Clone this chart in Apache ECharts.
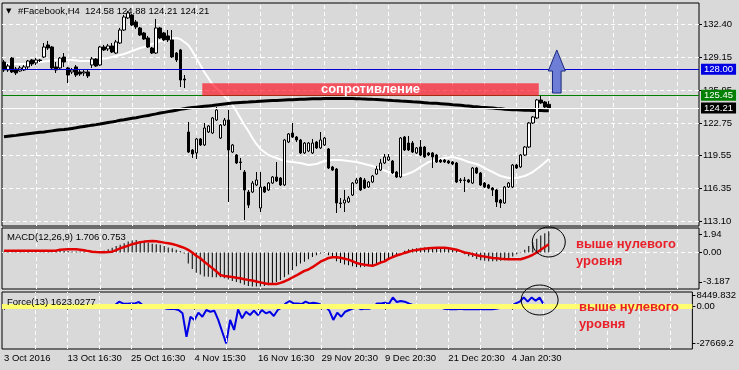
<!DOCTYPE html>
<html><head><meta charset="utf-8">
<script src="https://cdn.jsdelivr.net/npm/echarts/dist/echarts.min.js"></script>
<style>html,body{margin:0;padding:0;background:#D9D9D9;}#main{width:739px;height:370px;}</style>
</head><body><div id="main"></div>
<script>
// ---- data: [open, close, low, high] per H4 bar ----
const candles = [
[128.71,127.93,127.74,128.91],[127.93,128.32,127.74,128.52],[129.10,127.74,127.64,129.20],[128.03,127.64,127.44,128.23],
[127.83,128.13,127.74,128.32],[127.93,128.23,127.83,128.42],[128.23,128.81,128.03,128.91],[128.91,128.52,128.32,129.01],
[128.62,128.91,128.42,129.10],[128.91,128.86,128.71,129.01],[129.20,130.18,129.10,130.57],[130.38,130.08,129.89,130.77],
[130.18,128.13,128.03,130.28],[128.23,127.93,127.64,128.71],[128.13,129.10,127.93,129.20],[129.20,128.71,128.23,129.59],
[128.13,127.44,126.66,128.23],[127.74,127.93,127.54,128.13],[128.23,127.44,127.25,128.42],[127.74,127.54,127.35,128.03],
[127.64,127.74,127.35,127.93],[127.74,127.35,127.15,127.93],[128.42,129.01,128.13,129.20],[129.01,128.32,128.23,129.10],
[128.42,130.18,128.32,130.28],[130.18,129.89,129.79,130.38],[129.99,130.28,129.79,130.47],[130.28,129.69,129.59,130.57],
[129.59,130.67,129.50,130.87],[130.57,131.84,130.47,132.04],[131.84,133.11,131.75,133.31],[133.02,133.51,132.92,133.70],
[133.31,132.33,132.23,133.41],[132.63,132.14,131.94,132.82],[132.04,131.35,131.26,132.14],[131.55,130.96,130.87,131.65],
[131.06,130.18,130.08,131.26],[130.08,129.59,129.50,130.18],[129.59,132.04,129.50,132.92],[132.04,131.06,130.96,132.14],
[131.55,130.87,130.77,131.65],[131.26,130.87,130.67,131.84],[130.87,129.20,129.10,131.84],[129.59,128.91,128.71,129.69],
[129.89,126.95,126.27,129.99],[127.05,126.95,126.17,127.44],[121.87,119.91,119.82,122.85],[120.11,119.72,119.33,120.21],
[119.82,121.19,119.23,121.28],[121.19,120.60,120.50,121.28],[120.60,122.26,120.50,122.75],[121.87,122.46,121.77,122.55],
[121.77,123.24,121.68,123.34],[123.04,124.02,122.95,124.31],[121.28,122.55,121.19,122.65],[122.55,123.04,122.46,123.24],
[123.04,120.11,115.03,124.02],[119.91,120.60,119.82,120.70],[119.62,118.84,118.74,119.72],[118.94,118.89,118.15,119.33],
[117.96,116.20,113.27,118.15],[116.00,114.73,114.44,116.20],[116.00,116.88,115.91,117.08],[116.69,117.18,116.59,117.96],
[114.44,116.49,114.05,117.96],[116.49,116.00,115.91,116.59],[116.20,116.88,116.10,116.98],[116.88,117.47,116.79,117.57],
[117.47,117.08,116.98,118.94],[117.37,116.69,116.59,117.47],[116.69,121.09,116.59,121.19],[120.89,121.68,120.79,121.77],
[121.77,121.38,121.28,122.75],[121.38,121.09,120.89,121.48],[121.09,119.82,119.72,121.19],[119.82,120.79,119.72,120.89],
[120.01,120.79,119.91,120.89],[119.82,120.79,119.72,121.19],[120.89,120.31,120.21,120.99],[120.31,121.09,120.21,121.87],
[120.60,121.28,120.50,121.38],[120.21,118.35,118.25,120.31],[118.45,118.15,118.06,118.55],[118.25,114.93,113.95,118.35],
[114.93,114.88,114.44,115.42],[114.93,115.22,114.05,116.20],[115.03,115.42,114.93,115.61],[115.71,116.88,115.61,116.98],
[116.88,117.18,116.79,117.37],[117.37,116.20,116.10,117.47],[117.18,116.39,116.30,117.37],[116.49,116.98,116.39,117.08],
[116.98,117.57,116.88,117.67],[117.76,118.25,117.67,118.55],[118.15,118.84,118.06,119.23],[118.84,119.43,118.74,119.72],
[119.13,119.43,119.03,119.72],[119.03,117.86,117.76,119.13],[117.96,117.47,117.37,118.06],[117.47,121.28,117.37,121.38],
[121.38,120.11,120.01,121.48],[120.79,120.11,120.01,121.48],[120.79,119.91,119.82,120.99],[119.82,120.31,119.72,120.40],
[120.40,119.62,119.52,121.09],[120.40,119.43,119.33,120.50],[119.82,119.62,119.52,119.91],[119.82,119.43,118.35,119.91],
[119.62,118.94,118.84,119.72],[119.13,118.94,118.84,119.23],[119.13,118.94,118.84,119.23],[119.03,118.84,118.74,119.13],
[118.94,118.74,118.64,119.03],[118.84,116.98,116.88,118.94],[117.18,117.13,116.88,117.37],[117.18,117.13,116.00,117.47],
[117.18,116.98,116.88,117.28],[116.88,118.35,116.79,118.45],[118.35,117.86,117.76,118.45],[117.86,116.69,116.59,117.96],
[116.88,116.49,116.39,116.98],[116.69,116.39,116.30,116.79],[116.39,116.20,115.61,116.49],[116.20,115.03,114.54,116.30],
[115.22,114.93,114.44,115.32],[114.93,116.49,114.83,116.59],[116.49,116.88,116.39,116.98],[116.49,118.64,116.39,118.74],
[118.64,118.35,118.25,118.74],[118.45,119.62,118.35,119.72],[119.62,120.40,119.52,120.50],[120.40,122.75,120.31,122.85],
[122.75,123.34,122.65,123.44],[123.24,125.00,123.14,125.10],[125.00,124.71,124.61,125.49],[124.80,124.31,124.22,124.90],
[124.58,124.21,124.21,124.88]
];
const maFast = [128.52,128.52,128.52,128.52,128.52,128.52,128.57,128.62,128.66,128.71,128.76,128.81,128.91,128.91,128.96,128.96,
128.91,128.91,128.86,128.81,128.81,128.81,128.81,128.91,129.01,129.06,129.10,129.20,129.30,129.40,129.50,129.64,129.79,129.94,
130.08,130.18,130.33,130.47,130.62,130.77,130.87,130.96,131.01,131.06,130.96,130.67,130.38,129.79,129.10,128.42,127.74,127.15,
126.56,126.17,125.78,125.39,125.00,124.51,123.93,123.24,122.55,121.97,121.28,120.70,120.21,119.91,119.62,119.47,119.33,119.18,
119.03,118.99,118.94,118.89,118.84,118.74,118.64,118.69,118.74,118.89,119.03,119.08,119.13,119.13,119.13,119.08,119.03,118.99,
118.94,118.84,118.74,118.64,118.55,118.40,118.25,118.11,117.96,117.81,117.67,117.67,117.67,117.81,117.96,118.20,118.45,118.69,
118.94,119.03,119.13,119.23,119.33,119.38,119.43,119.33,119.23,119.08,118.94,118.84,118.74,118.55,118.35,118.15,117.96,117.76,
117.57,117.47,117.37,117.37,117.37,117.47,117.57,117.76,117.96,118.25,118.55,118.89,119.23];
const maSlow = [121.40,121.45,121.50,121.54,121.59,121.64,121.69,121.74,121.79,121.84,121.88,121.93,121.98,122.03,122.08,122.11,
122.16,122.22,122.28,122.35,122.41,122.47,122.54,122.59,122.65,122.72,122.79,122.86,122.93,123.01,123.07,123.14,123.21,123.27,
123.35,123.42,123.49,123.57,123.64,123.72,123.79,123.86,123.93,124.00,124.08,124.15,124.22,124.26,124.30,124.34,124.38,124.42,
124.46,124.51,124.56,124.61,124.66,124.71,124.74,124.76,124.78,124.80,124.83,124.85,124.88,124.90,124.92,124.94,124.96,124.98,
125.00,125.02,125.03,125.05,125.07,125.08,125.10,125.11,125.12,125.13,125.14,125.15,125.15,125.15,125.15,125.15,125.15,125.15,
125.13,125.11,125.10,125.08,125.06,125.05,125.03,125.00,124.98,124.95,124.93,124.90,124.88,124.85,124.82,124.80,124.77,124.74,
124.71,124.69,124.67,124.64,124.61,124.58,124.54,124.51,124.48,124.44,124.41,124.37,124.34,124.30,124.27,124.24,124.21,124.17,
124.14,124.10,124.07,124.05,124.04,124.02,124.00,123.99,123.97,123.96,123.96,123.95,123.95];
const macdHist = [0.1,0.1,0.1,0.1,0.1,0.1,0.1,0.1,0.15,0.15,0.15,0.15,0.15,0.15,0.15,0.15,0.15,0.1,0.1,0.1,0.1,
0.0,-0.05,-0.05,0.0,0.2,0.35,0.5,0.7,0.85,1.0,1.2,1.3,1.35,1.25,1.15,1.05,0.95,0.9,0.85,0.7,0.55,0.45,0.3,0.15,-0.1,
-1.2,-1.8,-2.2,-2.4,-2.6,-2.65,-2.7,-2.7,-2.7,-2.8,-2.95,-3.1,-3.2,-3.35,-3.5,-3.65,-3.7,-3.7,-3.7,-3.65,-3.55,-3.4,-3.2,-3.0,
-2.7,-2.4,-1.9,-1.5,-1.2,-1.0,-0.75,-0.5,-0.3,-0.12,-0.05,-0.3,-0.6,-0.95,-1.15,-1.3,-1.4,-1.5,-1.6,-1.6,-1.55,-1.5,-1.35,-1.3,
-1.15,-0.9,-0.65,-0.5,-0.25,0.0,0.2,0.35,0.4,0.45,0.5,0.55,0.55,0.55,0.55,0.55,0.55,0.5,0.35,0.15,0.0,-0.2,-0.4,-0.5,-0.7,
-0.85,-0.9,-0.95,-0.95,-0.95,-0.9,-0.85,-0.65,-0.45,-0.2,0.05,0.3,0.7,1.1,1.5,1.85,2.1,2.3];
const macdSignal = [0.2,0.2,0.2,0.2,0.2,0.2,0.2,0.2,0.2,0.2,0.2,0.2,0.2,0.2,0.3,0.32,0.34,0.34,0.34,0.3,0.25,0.15,0.09,0.04,
0.02,0.02,0.05,0.09,0.25,0.45,0.6,0.75,0.9,1.0,1.12,1.18,1.22,1.25,1.22,1.15,1.07,1.0,0.92,0.8,0.65,0.5,0.28,0.0,-0.35,-0.63,
-1.0,-1.35,-1.7,-2.05,-2.45,-2.55,-2.62,-2.67,-2.75,-2.81,-2.9,-2.98,-3.05,-3.15,-3.25,-3.35,-3.42,-3.42,-3.42,-3.3,-3.15,
-2.95,-2.72,-2.5,-2.25,-2.0,-1.85,-1.6,-1.3,-1.0,-0.8,-0.6,-0.52,-0.52,-0.58,-0.68,-0.78,-0.95,-1.15,-1.25,-1.33,-1.4,-1.45,
-1.3,-1.1,-0.97,-0.7,-0.5,-0.33,-0.2,-0.05,0.08,0.2,0.28,0.35,0.4,0.45,0.48,0.5,0.52,0.52,0.45,0.38,0.3,0.15,0.0,-0.07,-0.18,
-0.3,-0.38,-0.45,-0.53,-0.6,-0.63,-0.68,-0.72,-0.74,-0.74,-0.74,-0.74,-0.6,-0.45,-0.25,0.0,0.3,0.6,0.9];
const forceIdx = [0,200,-300,300,-200,400,300,600,500,300,800,600,-400,-300,300,200,-500,500,600,500,400,500,700,500,900,600,
800,300,1200,3800,2500,2200,2500,2500,3500,1000,200,500,800,200,-500,-1500,-1800,-1800,-2500,-5000,-22700,-7600,-10000,-4500,
-7600,-2500,-3800,-3000,-10000,-18900,-27700,-10000,-17600,-2000,-8800,-3800,-6300,-3000,-6300,-2500,-5000,-3800,-7000,-2500,
-500,2500,4300,2500,2500,2000,3800,2500,3000,2500,1500,0,-3000,-10000,-4500,-7600,-3800,-2500,-1300,-500,-2000,-1300,-1500,-500,
2500,2500,3000,2000,7000,3500,4300,3800,2500,1300,1300,0,300,0,-500,-500,-500,-1500,-2000,-1800,-2000,-1500,-2000,-1800,-2000,
-1800,-2000,-1800,-2000,-2000,-1500,-1000,0,300,1000,2500,3800,7000,3800,7000,4500,7000,1623];
const priceTicks = [113.10,116.35,119.55,122.75,125.95,129.15,132.40];
const macdTicks = [-3.187,0,1.94];
const macdTickText = ['-3.187','0.00','1.94'];
const forceTicks = [-27669.2,0,8449.832];
const forceTickText = ['-27669.2','0.00','8449.832'];
const timeTickIdx = [0,16,32,48,64,80,96,112,128];
const timeTickText = ['3 Oct 2016','13 Oct 16:30','25 Oct 16:30','4 Nov 15:30','16 Nov 16:30','29 Nov 20:30','9 Dec 20:30','21 Dec 20:30','4 Jan 20:30'];
const gridLineIdx = [8,16,24,32,40,48,56,64,72,80,88,96,104,112,120,128,136,144,152,160,168];
const levelValues = [128.00,125.45,124.21];
const resistanceZone = {from:50, to:133, low:125.40, high:126.63};
const arrowSpec = {bar:138, base:125.68, neck:127.83, tip:129.89};
const macdMark = {bar:136, value:1.14};
const forceMark = {bar:135, value:5065};

// ---- rendering ----
const FONT = 'Liberation Sans';
const SLOTS = 174;
const cats = Array.from({length:SLOTS}, (_, i) => String(i));
const levelLine = ['#0000D0','#008000','#FFFFFF'];
const levelTag = ['#0000E0','#008000','#000000'];
const dash = {color:'#FFFFFF', type:[4,3], width:1};
const vLines = gridLineIdx.map(i => ({xAxis:String(i), lineStyle:dash}));

function xAx(gi, last){
  return {
    type:'category', gridIndex:gi, data:cats, boundaryGap:true,
    axisLine:{show:false},
    axisTick:{show:last, alignWithLabel:true, length:3, interval:(i)=>timeTickIdx.indexOf(i)>=0, lineStyle:{color:'#000'}},
    axisLabel:{show:last, interval:(i)=>timeTickIdx.indexOf(i)>=0, align:'left', margin:4,
      formatter:(v,i)=>{const k=timeTickIdx.indexOf(i);return k>=0?timeTickText[k]:'';},
      color:'#000', fontSize:9.5, fontFamily:FONT, hideOverlap:false},
    splitLine:{show:false}
  };
}
function yAx(gi, min, max, ticks, fmt){
  return {
    type:'value', gridIndex:gi, position:'right', min:min, max:max, scale:false,
    axisLine:{show:false},
    axisTick:{show:true, customValues:ticks, length:3, lineStyle:{color:'#000'}},
    axisLabel:{customValues:ticks, formatter:fmt, color:'#000', fontSize:9.5, fontFamily:FONT, margin:4},
    splitLine:{show:false}
  };
}
const gridMark = (extra) => ({symbol:['none','none'], silent:true, animation:false, z:1, label:{show:false},
  data: vLines.concat(extra || [])});

const chart = echarts.init(document.getElementById('main'), null, {renderer:'canvas'});
const option = {
  animation:false,
  backgroundColor:'#D9D9D9',
  grid:[
    {left:2, right:40, top:3, height:223, show:true, borderColor:'#000', borderWidth:1},
    {left:2, right:40, top:228, height:61, show:true, borderColor:'#000', borderWidth:1},
    {left:2, right:40, top:292, height:57, show:true, borderColor:'#000', borderWidth:1}
  ],
  xAxis:[xAx(0,false), xAx(1,false), xAx(2,true)],
  yAxis:[
    yAx(0, 112.68, 134.48, priceTicks, v=>v.toFixed(2)),
    yAx(1, -3.97, 2.66, macdTicks, v=>{const k=macdTicks.findIndex(t=>Math.abs(t-v)<1e-6);return k>=0?macdTickText[k]:'';}),
    yAx(2, -31980, 11113, forceTicks, v=>{const k=forceTicks.findIndex(t=>Math.abs(t-v)<1e-3);return k>=0?forceTickText[k]:'';})
  ],
  series:[
    {type:'line', xAxisIndex:0, yAxisIndex:0, data:maFast, showSymbol:false, symbol:'none', z:2,
     lineStyle:{color:'#FFFFFF', width:2},
     markLine:gridMark(priceTicks.map(v => ({yAxis:v, lineStyle:dash})))},
    {type:'line', xAxisIndex:0, yAxisIndex:0, data:maSlow, showSymbol:false, symbol:'none', z:3,
     lineStyle:{color:'#000000', width:3}},
    {type:'candlestick', xAxisIndex:0, yAxisIndex:0, data:candles, barWidth:3, z:4,
     itemStyle:{color:'#FFFFFF', color0:'#000000', borderColor:'#000000', borderColor0:'#000000', borderWidth:1},
     markLine:{symbol:['none','none'], silent:true, animation:false,
       data:levelValues.map((v,k)=>({yAxis:v,
         lineStyle:{color:levelLine[k], width:1, type:'solid'},
         label:{show:true, position:'end', distance:2, formatter:v.toFixed(2), color:'#FFFFFF',
           backgroundColor:levelTag[k], padding:[1,3,0,3], fontSize:9.5, fontFamily:FONT}}))}},
    {type:'bar', xAxisIndex:1, yAxisIndex:1, data:macdHist, barWidth:1, z:2,
     itemStyle:{color:'#000000'},
     markLine:gridMark([{yAxis:0, lineStyle:dash}])},
    {type:'line', xAxisIndex:1, yAxisIndex:1, data:macdSignal, showSymbol:false, symbol:'none', z:3,
     lineStyle:{color:'#E00000', width:2.5}},
    {type:'line', xAxisIndex:2, yAxisIndex:2, data:forceIdx, showSymbol:false, symbol:'none', z:2,
     lineStyle:{color:'#0000E6', width:2},
     markLine:{symbol:['none','none'], silent:true, animation:false, label:{show:false},
       data:vLines.concat([{yAxis:0, lineStyle:{color:'#FFFF70', width:5, type:'solid'}}])}}
  ]
};
chart.setOption(option);

const P = (gi, x, y) => chart.convertToPixel({xAxisIndex:gi, yAxisIndex:gi}, [x, y]);
const half = 2;
const zl = P(0, resistanceZone.from, resistanceZone.high);
const zr = P(0, resistanceZone.to, resistanceZone.low);
const aTip = P(0, arrowSpec.bar, arrowSpec.tip);
const aNeck = P(0, arrowSpec.bar, arrowSpec.neck);
const aBase = P(0, arrowSpec.bar, arrowSpec.base);
const cx = aTip[0];
const m1 = P(1, macdMark.bar, macdMark.value);
const m2 = P(2, forceMark.bar, forceMark.value);
const red = '#E8202A';
const txt = (x, y, s, font, fill, align) => ({type:'text', x:x, y:y, z:120,
  style:{text:s, font:font, fill:fill, textAlign:align||'left', textVerticalAlign:'middle'}});

chart.setOption({graphic:[
  {type:'rect', z:100, shape:{x:zl[0]-half, y:zl[1], width:(zr[0]+half)-(zl[0]-half), height:zr[1]-zl[1]},
   style:{fill:'rgba(255,0,20,0.63)'}},
  txt((zl[0]+zr[0])/2, (zl[1]+zr[1])/2, 'сопротивление', 'bold 13px '+FONT, '#FFFFFF', 'center'),
  {type:'polygon', z:100, shape:{points:[[cx,aTip[1]],[cx+8.5,aNeck[1]],[cx+4.3,aNeck[1]],[cx+4.3,aBase[1]],
    [cx-4.3,aBase[1]],[cx-4.3,aNeck[1]],[cx-8.5,aNeck[1]]]},
   style:{fill:'#6E7ED6', stroke:'#1C2A80', lineWidth:1}},
  {type:'ellipse', z:100, shape:{cx:m1[0], cy:m1[1], rx:16.5, ry:15}, style:{fill:'none', stroke:'#000', lineWidth:1}},
  {type:'ellipse', z:100, shape:{cx:m2[0], cy:m2[1], rx:18.5, ry:15}, style:{fill:'none', stroke:'#000', lineWidth:1}},
  txt(6, 11, '▼', '7px DejaVu Sans', '#000'),
  txt(18, 11, '#Facebook,H4  124.58 124.88 124.21 124.21', '9.5px '+FONT, '#000'),
  txt(7, 237, 'MACD(12,26,9) 1.706 0.753', '9.5px '+FONT, '#000'),
  txt(7, 302, 'Force(13) 1623.0277', '9.5px '+FONT, '#000'),
  txt(576, 244, 'выше нулевого', 'bold 13px '+FONT, red),
  txt(576, 261, 'уровня', 'bold 13px '+FONT, red),
  txt(579, 307, 'выше нулевого', 'bold 13px '+FONT, red),
  txt(579, 324, 'уровня', 'bold 13px '+FONT, red)
]});
</script>
</body></html>
